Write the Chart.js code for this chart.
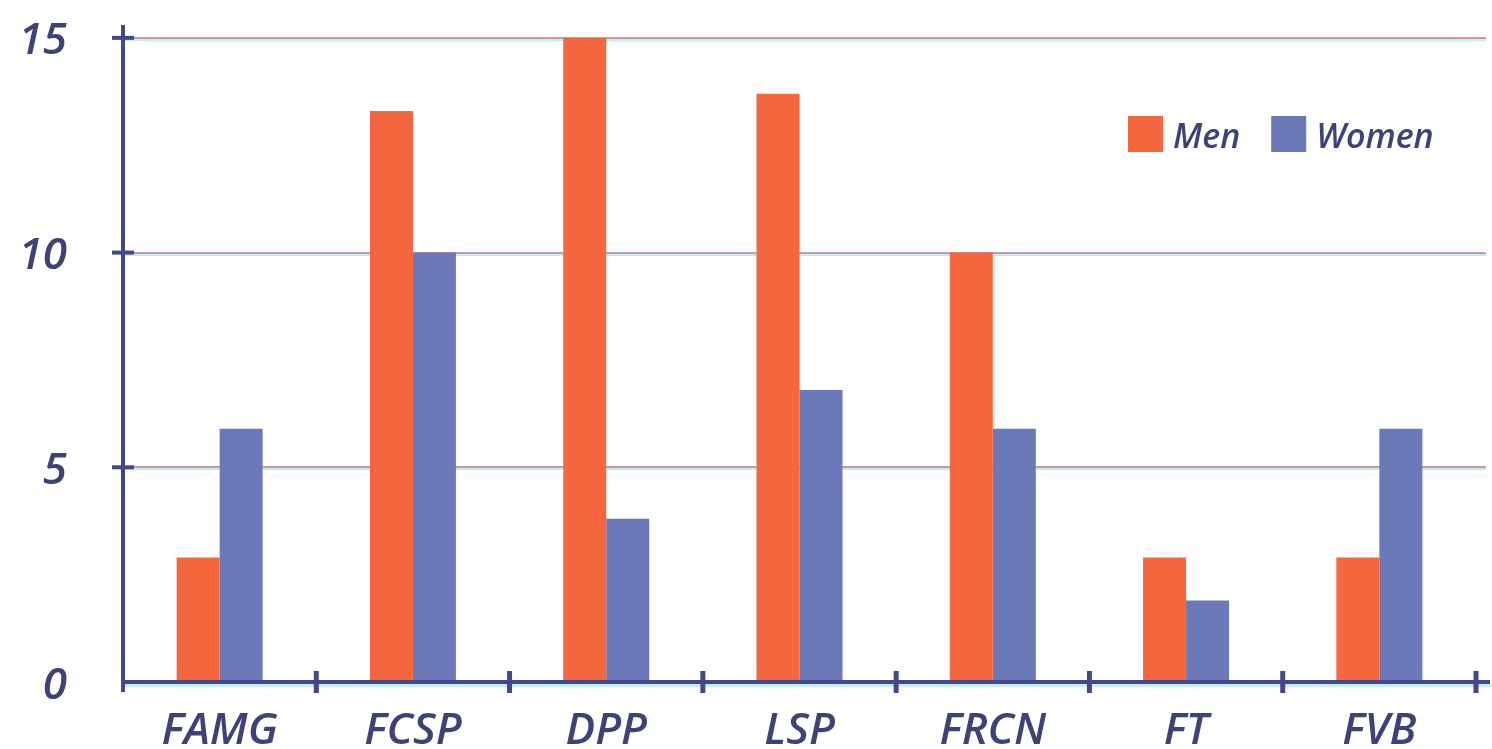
<!DOCTYPE html>
<html>
<head>
<meta charset="utf-8">
<script src="https://cdn.jsdelivr.net/npm/chart.js@4.4.1/dist/chart.umd.min.js"></script>
<style>
  html, body { margin: 0; padding: 0; background: #ffffff; }
  #wrap { width: 1492px; height: 749px; position: relative; }
</style>
</head>
<body>
<div id="wrap"><canvas id="chart"></canvas></div>
<script>
// Number of staff per department, split by gender
const categories = ['FAMG', 'FCSP', 'DPP', 'LSP', 'FRCN', 'FT', 'FVB'];
const menValues = [2.9, 13.3, 15, 13.7, 10, 2.9, 2.9];
const womenValues = [5.9, 10, 3.8, 6.8, 5.9, 1.9, 5.9];
const yTickValues = [0, 5, 10, 15];
const seriesNames = ['Men', 'Women'];
const seriesColors = ['#f5683f', '#6b79b9'];

const AXIS = '#46478a';
const INK = '#3f4179';
const FONT = "'Open Sans', 'DejaVu Sans', sans-serif";

// Gridlines, crossing tick marks, axis lines and the in-plot legend
const decor = {
  id: 'decor',
  beforeDatasetsDraw(chart) {
    const { ctx, chartArea, scales: { y } } = chart;
    const left = chartArea.left;
    const w = chartArea.right + 10 - left;
    ctx.save();
    yTickValues.forEach(v => {
      if (v === 0) return;
      const py = Math.round(y.getPixelForValue(v));
      ctx.fillStyle = '#bdeef0';
      ctx.fillRect(left, py + 1, w, 2);
      ctx.fillStyle = '#cf98aa';
      ctx.fillRect(left, py - 1, w, 2);
    });
    ctx.restore();
  },
  afterDatasetsDraw(chart) {
    const { ctx, chartArea, scales: { x, y } } = chart;
    const x0 = chartArea.left;
    const y0 = y.getPixelForValue(0);
    ctx.save();

    // x axis with a faint cyan shadow
    ctx.fillStyle = '#c4f0f2';
    ctx.fillRect(x0, y0 + 2, chartArea.right + 16 - x0, 3);
    ctx.fillStyle = AXIS;
    ctx.fillRect(x0 - 2, y0 - 2, chartArea.right + 16 - x0, 4);

    // y axis
    ctx.fillRect(x0 - 2, chartArea.top, 4, y0 + 10 - chartArea.top);

    // y tick crosses
    yTickValues.forEach(v => {
      if (v === 0) return;
      const py = y.getPixelForValue(v);
      ctx.fillRect(x0 - 11, py - 2, 22, 4);
    });

    // x tick crosses at category boundaries
    const step = x.getPixelForValue(1) - x.getPixelForValue(0);
    categories.forEach((c, i) => {
      const bx = x.getPixelForValue(i) + step / 2;
      ctx.fillRect(bx - 2.5, y0 - 11, 5, 22);
    });

    // legend
    ctx.font = "italic 600 34px " + FONT;
    ctx.textBaseline = 'middle';
    let lx = 1128;
    const ly = 116;
    chart.data.datasets.forEach((ds, i) => {
      ctx.fillStyle = ds.backgroundColor;
      ctx.fillRect(lx, ly, 35, 36);
      lx += 45;
      ctx.fillStyle = INK;
      ctx.fillText(ds.label, lx, ly + 22);
      lx += ctx.measureText(ds.label).width + 31;
    });
    ctx.restore();
  }
};

const tickFont = { family: FONT, size: 44, style: 'italic', weight: '600' };

new Chart(document.getElementById('chart'), {
  type: 'bar',
  data: {
    labels: categories,
    datasets: [
      { label: seriesNames[0], data: menValues, backgroundColor: seriesColors[0] },
      { label: seriesNames[1], data: womenValues, backgroundColor: seriesColors[1] }
    ]
  },
  options: {
    responsive: true,
    maintainAspectRatio: false,
    animation: false,
    categoryPercentage: 0.445,
    barPercentage: 1.0,
    layout: { padding: { left: 0, right: 16, top: 25, bottom: 0 } },
    plugins: { legend: { display: false }, tooltip: { enabled: false } },
    scales: {
      x: {
        grid: { display: false },
        border: { display: false },
        ticks: { font: tickFont, color: INK, padding: 15, maxRotation: 0 },
        afterFit(s) {
          s.height = 67;
          s.paddingLeft = 0; s.paddingRight = 0;
        }
      },
      y: {
        min: 0,
        max: 15.3,
        afterBuildTicks(s) { s.ticks = yTickValues.map(v => ({ value: v })); },
        grid: { display: false },
        border: { display: false },
        ticks: { font: tickFont, color: INK, padding: 48, labelOffset: 4 },
        afterFit(s) {
          s.width = 123;
          s.paddingTop = 0; s.paddingBottom = 0;
        }
      }
    }
  },
  plugins: [decor]
});
</script>
</body>
</html>
